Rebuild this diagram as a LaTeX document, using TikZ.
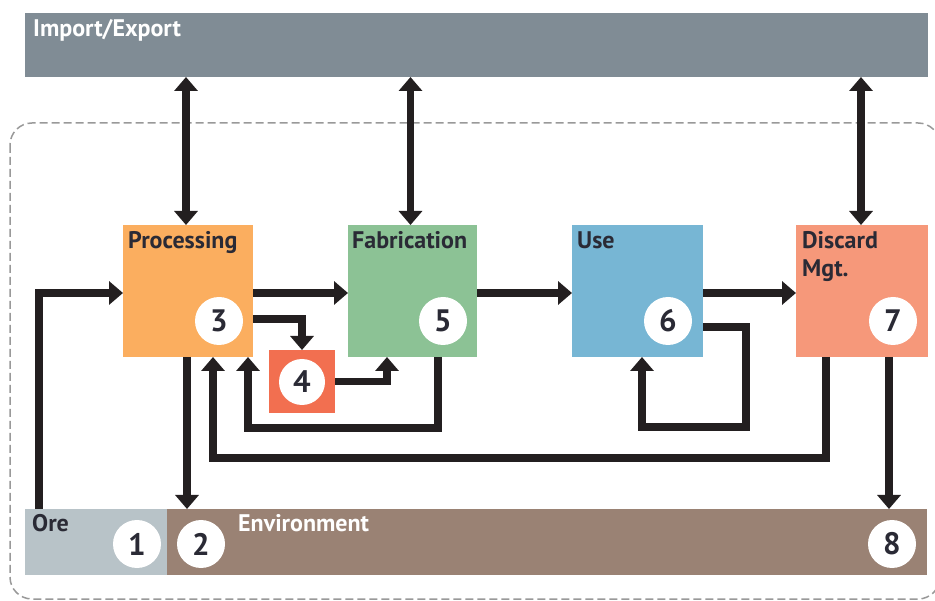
\documentclass[tikz,border=0pt]{standalone}
\usepackage{fontspec}
\setmainfont{PT Sans}
\usetikzlibrary{arrows.meta,calc}
\definecolor{impc}{HTML}{808C95}
\definecolor{procc}{HTML}{FBAE5F}
\definecolor{fabc}{HTML}{8CC295}
\definecolor{usec}{HTML}{77B6D4}
\definecolor{discc}{HTML}{F6987A}
\definecolor{fourc}{HTML}{F26F50}
\definecolor{orec}{HTML}{B8C3C8}
\definecolor{envc}{HTML}{9A8274}
\definecolor{arrc}{HTML}{231F20}
\definecolor{txtc}{HTML}{2A2A35}
\tikzset{
  boxnode/.style={draw=none, inner sep=0pt, outer sep=0pt},
  numc/.style={circle, fill=white, inner sep=0pt, minimum size=48pt, font=\bfseries\fontsize{31}{31}\selectfont, text=txtc},
  lbl/.style={inner sep=0pt, anchor=base west, font=\bfseries\fontsize{24}{29}\selectfont, text=txtc},
  wlbl/.style={lbl, text=white},
  arr/.style={draw=arrc, line width=7.5pt, -{Triangle[width=23pt,length=14pt]}},
  darr/.style={draw=arrc, line width=7.5pt, {Triangle[width=23pt,length=14pt]}-{Triangle[width=23pt,length=14pt]}},
}
\begin{document}
\begin{tikzpicture}[x=1pt,y=-1pt]
\clip (0,0) rectangle (935,601);
\fill[white] (0,0) rectangle (935,601);
% dashed system boundary
\draw[gray!80, line width=1.5pt, dash pattern=on 8pt off 4pt, rounded corners=22pt] (10,123) rectangle (940,599);
% bars
\node[boxnode, fill=impc, minimum width=903pt, minimum height=64pt] (imp) at (476.5,45) {};
\node[boxnode, fill=orec, minimum width=142pt, minimum height=66pt] (ore) at (96,542) {};
\node[boxnode, fill=envc, minimum width=760pt, minimum height=66pt] (env) at (547,542) {};
% process boxes
\node[boxnode, fill=procc, minimum width=130pt, minimum height=132pt] (proc) at (188,291) {};
\node[boxnode, fill=fabc, minimum width=129pt, minimum height=132pt] (fab) at (412.5,291) {};
\node[boxnode, fill=usec, minimum width=131pt, minimum height=132pt] (use) at (637.5,291) {};
\node[boxnode, fill=discc, minimum width=132pt, minimum height=132pt] (disc) at (862,291) {};
\node[boxnode, fill=fourc, minimum width=66pt, minimum height=63pt] (b4) at (302,381.5) {};
% labels
\node[wlbl] (timp) at (33,37) {Import/Export};
\node[lbl] (tproc) at (128,249) {Processing};
\node[lbl] (tfab) at (352,249) {Fabrication};
\node[lbl] (tuse) at (577,249) {Use};
\node[lbl] (tdisc) at (802,249) {Discard};
\node[lbl] (tmgt) at (802,277) {Mgt.};
\node[lbl] (tore) at (32,532) {Ore};
\node[wlbl] (tenv) at (238,532) {Environment};
% number circles
\node[numc] (n1) at (137,544) {1};
\node[numc] (n2) at (201,544) {2};
\node[numc] (n3) at (219,321) {3};
\node[numc, minimum size=46pt] (n4) at (302,382) {4};
\node[numc] (n5) at (443,321) {5};
\node[numc] (n6) at (668,321) {6};
\node[numc] (n7) at (893,321) {7};
\node[numc] (n8) at (892,544) {8};
% import/export arrows
\draw[darr] ([xshift=-2pt]proc.north) -- ([xshift=-2pt]proc.north |- imp.south);
\draw[darr] ([xshift=-2pt]fab.north) -- ([xshift=-2pt]fab.north |- imp.south);
\draw[darr] ([xshift=-1pt]disc.north) -- ([xshift=-1pt]disc.north |- imp.south);
% main flow
\draw[arr] ([xshift=14pt]ore.north west) |- ([yshift=-2pt]proc.west);
\draw[arr] ([yshift=-2pt]proc.east) -- ([yshift=-2pt]fab.west);
\draw[arr] ([yshift=-2pt]fab.east) -- ([yshift=-2pt]use.west);
\draw[arr] ([yshift=-2pt]use.east) -- ([yshift=-2pt]disc.west);
% processing to 4, 4 to fabrication
\draw[arr] (proc.east |- 0,319) -| (b4.north);
\draw[arr] (b4.east) -| ([xshift=-25.5pt]fab.south);
% fabrication scrap back to processing
\draw[arr] ([xshift=25.5pt]fab.south) -- ++(0,71) -| ([xshift=60pt]proc.south);
% processing to environment
\draw[arr] ([xshift=-1pt]proc.south) -- ([xshift=-1pt]proc.south |- env.north);
% discard back to processing
\draw[arr] ([xshift=-36pt]disc.south) -- ++(0,101) -| ([xshift=25pt]proc.south);
% discard to environment
\draw[arr] ([xshift=27pt]disc.south) -- ([xshift=27pt]disc.south |- env.north);
% use loop
\draw[arr] (use.east |- 0,327) -- ++(43,0) -- ++(0,100) -| ([xshift=4.5pt]use.south);
\end{tikzpicture}
\end{document}
